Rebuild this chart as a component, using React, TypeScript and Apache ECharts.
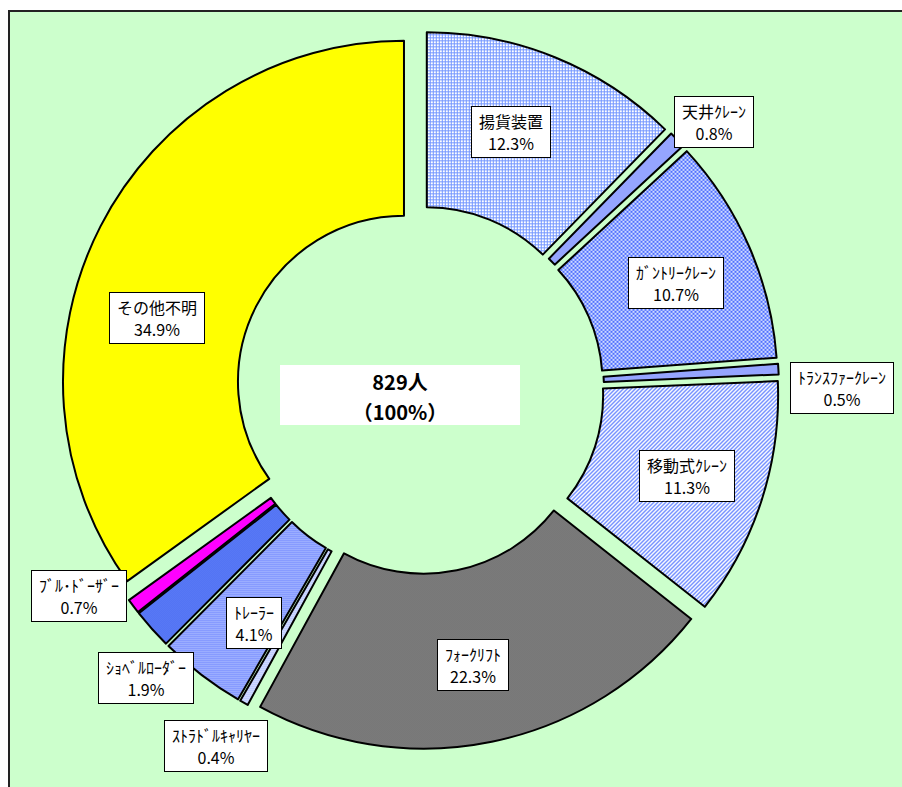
import React, { useEffect, useRef } from "react";
import * as echarts from "echarts";

// ---- data ----
const categories = [
  "揚貨装置",
  "天井ｸﾚｰﾝ",
  "ｶﾞﾝﾄﾘｰｸﾚｰﾝ",
  "ﾄﾗﾝｽﾌｧｰｸﾚｰﾝ",
  "移動式ｸﾚｰﾝ",
  "ﾌｫｰｸﾘﾌﾄ",
  "ｽﾄﾗﾄﾞﾙｷｬﾘﾔｰ",
  "ﾄﾚｰﾗｰ",
  "ｼｮﾍﾞﾙﾛｰﾀﾞｰ",
  "ﾌﾞﾙ･ﾄﾞｰｻﾞｰ",
  "その他不明",
];
const shares = [12.3, 0.8, 10.7, 0.5, 11.3, 22.3, 0.4, 4.1, 1.9, 0.7, 34.9];
const totalLabel = ["829人", "（100%）"];

// ---- layout (label box centres, px) ----
const LABEL_POS: [number, number][] = [
  [511, 132],
  [714, 122],
  [676, 283],
  [842, 388],
  [687, 476],
  [473, 665],
  [216, 746],
  [254, 623],
  [146, 678],
  [79, 596],
  [157, 318],
];

type Tile = { size: [number, number]; px: (x: number, y: number) => string };

function makePattern(t: Tile) {
  const c = document.createElement("canvas");
  c.width = t.size[0];
  c.height = t.size[1];
  const ctx = c.getContext("2d")!;
  for (let y = 0; y < c.height; y++) {
    for (let x = 0; x < c.width; x++) {
      ctx.fillStyle = t.px(x, y);
      ctx.fillRect(x, y, 1, 1);
    }
  }
  return {
    image: c,
    repeat: "repeat",
    imageWidth: c.width,
    imageHeight: c.height,
  } as any;
}

function buildColors() {
  return [
    // grid
    makePattern({ size: [3, 3], px: (x, y) => (x === 0 || y === 0 ? "#7396FF" : "#FFFFFF") }),
    "#95A5FF",
    // dense checker
    makePattern({
      size: [4, 4],
      px: (x, y) => ((Math.floor(x / 2) + Math.floor(y / 2)) % 2 === 0 ? "#4F70FF" : "#D0DAFF"),
    }),
    "#95A5FF",
    // diagonal
    makePattern({ size: [4, 4], px: (x, y) => ((x + y) % 4 < 2 ? "#6F8CFF" : "#FFFFFF") }),
    // gray dotted
    makePattern({ size: [2, 2], px: (x, y) => ((x + y) % 2 === 0 ? "#666666" : "#8C8C8C") }),
    // light stripes
    makePattern({ size: [2, 2], px: (x, y) => (y === 0 ? "#B4C2FF" : "#DCE3FF") }),
    // horizontal lines
    makePattern({ size: [2, 2], px: (x, y) => (y === 0 ? "#7A90FF" : "#A8B8FF") }),
    // blue dotted
    makePattern({ size: [2, 2], px: (x, y) => ((x + y) % 2 === 0 ? "#3F62F0" : "#6C8AF8") }),
    "#FF00FF",
    "#FFFF00",
  ];
}

export default function App() {
  const ref = useRef<HTMLDivElement>(null);

  useEffect(() => {
    if (!ref.current) return;
    const chart = echarts.init(ref.current, undefined, { renderer: "svg" });
    const colors = buildColors();
    const font = '"Noto Sans CJK JP", "Noto Sans", sans-serif';

    const labelGraphics = categories.map((name, i) => ({
      type: "text",
      z: 100,
      silent: true,
      x: LABEL_POS[i][0],
      y: LABEL_POS[i][1],
      style: {
        text: `${name}\n${shares[i].toFixed(1)}%`,
        fontFamily: font,
        fontSize: 16,
        lineHeight: 22,
        fill: "#000",
        align: "center",
        verticalAlign: "middle",
        backgroundColor: "#FFFFFF",
        borderColor: "#000",
        borderWidth: 1,
        padding: [3, 7],
      },
    }));

    const centerTexts = totalLabel.map((t, i) => ({
      type: "text",
      z: 101,
      silent: true,
      x: 400,
      y: 381 + i * 30,
      style: {
        text: t,
        fontFamily: font,
        fontSize: 20,
        fontWeight: "bold",
        fill: "#000",
        align: "center",
        verticalAlign: "middle",
      },
    }));

    chart.setOption({
      animation: false,
      backgroundColor: "#FFFFFF",
      graphic: [
        {
          type: "rect",
          z: -10,
          silent: true,
          shape: { x: 9, y: 11, width: 960, height: 860 },
          style: { fill: "#CCFFCC", stroke: "#222222", lineWidth: 2 },
        },
        {
          type: "rect",
          z: 100,
          silent: true,
          shape: { x: 280, y: 365, width: 240, height: 60 },
          style: { fill: "#FFFFFF" },
        },
        ...centerTexts,
        ...labelGraphics,
      ],
      series: [
        {
          type: "pie",
          z: 2,
          center: [420, 390],
          radius: [166, 341],
          startAngle: 90,
          clockwise: true,
          selectedMode: "multiple",
          selectedOffset: 18,
          avoidLabelOverlap: false,
          emphasis: { disabled: true },
          itemStyle: { borderColor: "#000", borderWidth: 2 },
          labelLine: { show: false },
          label: { show: false },
          data: categories.map((name, i) => ({
            name,
            value: shares[i],
            selected: true,
            itemStyle: { color: colors[i] },
          })),
        },
      ],
    });

    return () => chart.dispose();
  }, []);

  return (
    <div
      ref={ref}
      style={{ position: "absolute", left: 0, top: 0, width: 902, height: 787 }}
    />
  );
}
